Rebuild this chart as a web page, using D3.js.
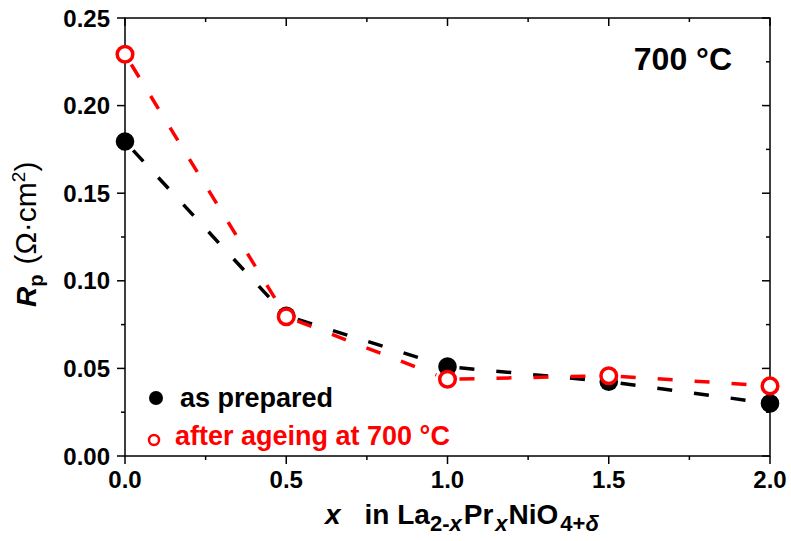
<!DOCTYPE html>
<html>
<head>
<meta charset="utf-8">
<script src="https://cdn.jsdelivr.net/npm/d3@7"></script>
<style>
  html, body { margin: 0; padding: 0; background: #fff; }
  svg { display: block; font-family: "Liberation Sans", Arial, sans-serif; }
</style>
</head>
<body>
<svg id="chart" width="791" height="541"></svg>
<script>
// ---- data ----
const xValues = [0.0, 0.5, 1.0, 1.5, 2.0];
const asPrepared = [0.1795, 0.0800, 0.0510, 0.0424, 0.0300];
const afterAgeing = [0.2293, 0.0795, 0.0438, 0.0458, 0.0400];
const xTicks = [0.0, 0.5, 1.0, 1.5, 2.0];
const yTicks = [0.00, 0.05, 0.10, 0.15, 0.20, 0.25];
const legendLabels = ["as prepared", "after ageing at 700 °C"];
const annotation = "700 °C";

// ---- layout ----
const svg = d3.select("#chart");
const L = 125, R = 770, T = 18, B = 456;
const x = d3.scaleLinear().domain([0, 2]).range([L, R]);
const y = d3.scaleLinear().domain([0, 0.25]).range([B, T]);

const xMinor = d3.range(0, 2.0001, 0.25);
const yMinor = d3.range(0, 0.25001, 0.025);

// frame
svg.append("rect").attr("x", L).attr("y", T).attr("width", R - L).attr("height", B - T)
  .attr("fill", "none").attr("stroke", "#000").attr("stroke-width", 1.5);

function isMajor(v, step) { return Math.abs(v / step - Math.round(v / step)) < 1e-6; }

// ticks
const tickG = svg.append("g").attr("stroke", "#000").attr("stroke-width", 1.5);
xMinor.forEach(v => {
  const len = isMajor(v, 0.5) ? 8 : 4;
  tickG.append("line").attr("x1", x(v)).attr("x2", x(v)).attr("y1", B).attr("y2", B + len);
  tickG.append("line").attr("x1", x(v)).attr("x2", x(v)).attr("y1", T).attr("y2", T + len);
});
yMinor.forEach(v => {
  const len = isMajor(v, 0.05) ? 8 : 4;
  tickG.append("line").attr("x1", L).attr("x2", L - len).attr("y1", y(v)).attr("y2", y(v));
  tickG.append("line").attr("x1", R).attr("x2", R - len).attr("y1", y(v)).attr("y2", y(v));
});

// tick labels
svg.append("g").selectAll("text").data(xTicks).join("text")
  .attr("x", d => x(d)).attr("y", 488)
  .attr("text-anchor", "middle").attr("font-size", 24).attr("font-weight", "bold")
  .text(d => d3.format(".1f")(d));
svg.append("g").selectAll("text").data(yTicks).join("text")
  .attr("x", 110).attr("y", d => y(d)).attr("dy", "0.36em")
  .attr("text-anchor", "end").attr("font-size", 24).attr("font-weight", "bold")
  .text(d => d3.format(".2f")(d));

// x title
const xt = svg.append("text").attr("x", 325).attr("y", 524)
  .attr("font-size", 28).attr("font-weight", "bold");
xt.append("tspan").attr("font-style", "italic").text("x");
xt.append("tspan").attr("dx", 24).text("in La");
xt.append("tspan").attr("font-size", 22).attr("dy", 7).text("2-");
xt.append("tspan").attr("font-size", 22).attr("font-style", "italic").text("x");
xt.append("tspan").attr("dy", -7).attr("dx", 2).text("Pr");
xt.append("tspan").attr("font-size", 22).attr("font-style", "italic").attr("dy", 7).attr("dx", 2).text("x");
xt.append("tspan").attr("dy", -7).attr("dx", 1).text("NiO");
xt.append("tspan").attr("font-size", 22).attr("dy", 7).attr("dx", 2).text("4+");
xt.append("tspan").attr("font-size", 22).attr("font-style", "italic").text("δ");

// y title
const yt = svg.append("text").attr("transform", "translate(36,307) rotate(-90)")
  .attr("font-size", 28).attr("font-weight", "bold");
yt.append("tspan").attr("font-style", "italic").text("R");
yt.append("tspan").attr("font-size", 20).attr("dy", 7).text("p");
yt.append("tspan").attr("dy", -7).attr("dx", 10).attr("font-weight", "normal").attr("font-size", 30).text("(Ω·cm");
yt.append("tspan").attr("font-weight", "normal").attr("font-size", 19).attr("dy", -11).text("2");
yt.append("tspan").attr("font-weight", "normal").attr("font-size", 30).attr("dy", 11).text(")");

// annotation
svg.append("text").attr("x", 732).attr("y", 70).attr("text-anchor", "end")
  .attr("font-size", 32).attr("font-weight", "bold").text(annotation);

// dashed segments, shortened around markers
function drawSeries(vals, color) {
  const pts = xValues.map((v, i) => [x(v), y(vals[i])]);
  const g = svg.append("g");
  for (let i = 0; i < pts.length - 1; i++) {
    const [x1, y1] = pts[i], [x2, y2] = pts[i + 1];
    const dx = x2 - x1, dy = y2 - y1, len = Math.hypot(dx, dy);
    const gap = 12;
    const ux = dx / len, uy = dy / len;
    g.append("path")
      .attr("d", d3.line()([[x1 + ux * gap, y1 + uy * gap], [x2 - ux * gap, y2 - uy * gap]]))
      .attr("fill", "none").attr("stroke", color).attr("stroke-width", 3.5)
      .attr("stroke-dasharray", "15,22");
  }
}
drawSeries(asPrepared, "#000");
drawSeries(afterAgeing, "#ff0000");

svg.append("g").selectAll("circle").data(asPrepared).join("circle")
  .attr("cx", (d, i) => x(xValues[i])).attr("cy", d => y(d)).attr("r", 9.3)
  .attr("fill", "#000");
svg.append("g").selectAll("circle").data(afterAgeing).join("circle")
  .attr("cx", (d, i) => x(xValues[i])).attr("cy", d => y(d)).attr("r", 7.8)
  .attr("fill", "#fff").attr("stroke", "#ff0000").attr("stroke-width", 3.5);

// legend
svg.append("circle").attr("cx", 156).attr("cy", 398).attr("r", 7).attr("fill", "#000");
svg.append("text").attr("x", 180).attr("y", 407).attr("font-size", 27).attr("font-weight", "bold")
  .attr("fill", "#000").text(legendLabels[0]);
svg.append("circle").attr("cx", 154).attr("cy", 440).attr("r", 5).attr("fill", "#fff")
  .attr("stroke", "#ff0000").attr("stroke-width", 2.5);
svg.append("text").attr("x", 175).attr("y", 445).attr("font-size", 27).attr("font-weight", "bold")
  .attr("fill", "#ff0000").text(legendLabels[1]);
</script>
</body>
</html>
